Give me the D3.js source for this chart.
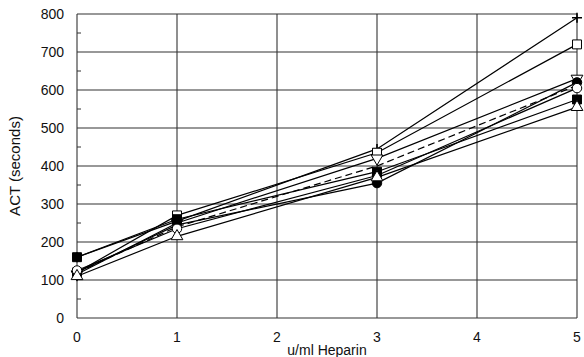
<!DOCTYPE html>
<html>
<head>
<meta charset="utf-8">
<script src="https://cdn.jsdelivr.net/npm/d3@7"></script>
<style>
  body { margin: 0; background: #fff; }
  text { font-family: "Liberation Sans", Arial, sans-serif; fill: #111; }
</style>
</head>
<body>
<div id="chart"></div>
<script>
// heparin doses (u/ml) where ACT was measured
var doses = [0, 1, 3, 5];

// one array per sample, ACT in seconds
var plusSeries      = [160, 255, 445, 790];
var openSquare      = [120, 270, 435, 720];
var openTriDown     = [115, 250, 420, 630];
var filledCircle    = [120, 245, 355, 620];
var openCircle      = [125, 235, 375, 605];
var filledSquare    = [160, 260, 385, 575];
var openTriUp       = [110, 215, 370, 555];
var dashedSeries    = [120, 240, 400, 612];

var xTicks = [0, 1, 2, 3, 4, 5];
var yTicks = [0, 100, 200, 300, 400, 500, 600, 700, 800];

var series = [
    {values: plusSeries,   marker: "plus"},
    {values: openSquare,   marker: "square", fill: "white"},
    {values: openTriDown,  marker: "triDown", fill: "white"},
    {values: filledCircle, marker: "circle", fill: "black"},
    {values: openCircle,   marker: "circle", fill: "white"},
    {values: filledSquare, marker: "square", fill: "black"},
    {values: openTriUp,    marker: "triUp", fill: "white"},
    {values: dashedSeries, marker: "none", dash: "7,4"}
];

var width = 584, height = 357;
var margin = {top: 14, right: 7, bottom: 39, left: 77};

var svg = d3.select("#chart").append("svg")
    .attr("width", width)
    .attr("height", height);

var x = d3.scaleLinear().domain([0, 5]).range([margin.left, width - margin.right]);
var y = d3.scaleLinear().domain([0, 800]).range([height - margin.bottom, margin.top]);

// grid
svg.append("g").selectAll("line").data(yTicks).enter().append("line")
    .attr("x1", x(0)).attr("x2", x(5))
    .attr("y1", d => y(d)).attr("y2", d => y(d))
    .style("stroke", "#333").style("stroke-width", 1.1);
svg.append("g").selectAll("line").data(xTicks).enter().append("line")
    .attr("y1", y(0)).attr("y2", y(800))
    .attr("x1", d => x(d)).attr("x2", d => x(d))
    .style("stroke", "#333").style("stroke-width", 1.1);

// little inside ticks between the gridlines
svg.append("g").selectAll("line").data(d3.range(50, 800, 100)).enter().append("line")
    .attr("x1", x(0)).attr("x2", x(0) + 4)
    .attr("y1", d => y(d)).attr("y2", d => y(d))
    .style("stroke", "#333");

// y tick labels
svg.append("g").selectAll("text").data(yTicks).enter().append("text")
    .attr("x", 64)
    .attr("y", d => y(d) + 5)
    .attr("text-anchor", "end")
    .style("font-size", "14px")
    .text(d => d);

// x tick labels
svg.append("g").selectAll("text").data(xTicks).enter().append("text")
    .attr("x", d => x(d))
    .attr("y", 342)
    .attr("text-anchor", "middle")
    .style("font-size", "14px")
    .text(d => d);

svg.append("text")
    .attr("x", x(2.5))
    .attr("y", 355)
    .attr("text-anchor", "middle")
    .style("font-size", "14px")
    .text("u/ml Heparin");

svg.append("text")
    .attr("transform", "translate(20," + y(400) + ") rotate(-90)")
    .attr("text-anchor", "middle")
    .style("font-size", "15px")
    .text("ACT (seconds)");

// lines
var line = d3.line()
    .x((d, i) => x(doses[i]))
    .y(d => y(d));

svg.append("g").selectAll("path").data(series).enter().append("path")
    .attr("d", d => line(d.values))
    .style("fill", "none")
    .style("stroke", "black")
    .style("stroke-width", 1.2)
    .style("stroke-dasharray", d => d.dash || null);

// markers
var symbolType = {
    plus: d3.symbolCross,
    square: d3.symbolSquare,
    circle: d3.symbolCircle,
    triUp: d3.symbolTriangle,
    triDown: d3.symbolTriangle
};

series.forEach(function(s){
    if(s.marker == "none") return;
    var g = svg.append("g");
    s.values.forEach(function(v, i){
        var px = x(doses[i]), py = y(v);
        if(s.marker == "plus"){
            g.append("path")
                .attr("d", "M" + (px - 5) + "," + py + "h10M" + px + "," + (py - 5) + "v10")
                .style("stroke", "black").style("stroke-width", 1.6);
            return;
        }
        var size = s.marker == "circle" ? 70 : (s.marker == "square" ? 80 : 60);
        var rot = s.marker == "triDown" ? " rotate(180)" : "";
        g.append("path")
            .attr("d", d3.symbol().type(symbolType[s.marker]).size(size)())
            .attr("transform", "translate(" + px + "," + py + ")" + rot)
            .style("fill", s.fill)
            .style("stroke", "black")
            .style("stroke-width", 1);
    });
});
</script>
</body>
</html>
